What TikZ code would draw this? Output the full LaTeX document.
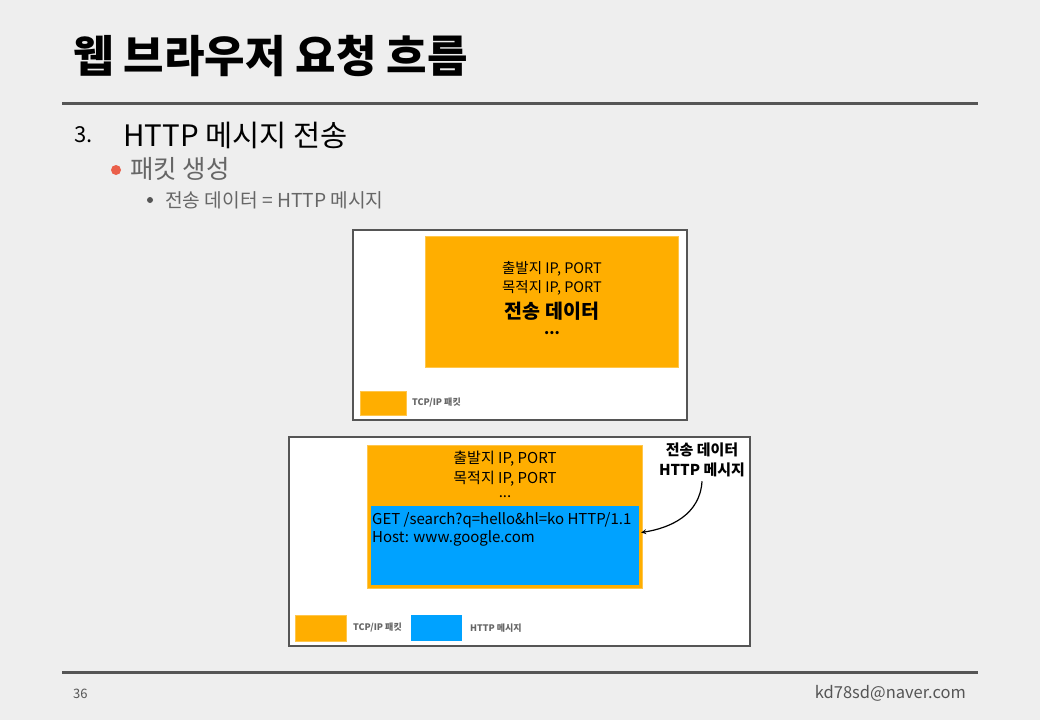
\documentclass[tikz,border=0pt]{standalone}
\usepackage{fontspec}
\setmainfont{Noto Sans CJK KR}
\usetikzlibrary{positioning}

\definecolor{pktorange}{HTML}{FFAE00}
\definecolor{msgblue}{HTML}{00A2FF}
\definecolor{slidebg}{HTML}{EEEEEE}
\definecolor{rulegray}{HTML}{555555}
\definecolor{subgray}{HTML}{666666}
\definecolor{dotred}{HTML}{EA5F4A}
\newcommand{\fsz}[2]{\fontsize{#1}{#2}\selectfont}

\begin{document}
\begin{tikzpicture}[x=1pt,y=-1pt,>=stealth,
  outer/.style={draw=rulegray,line width=2pt,fill=white,inner sep=0pt},
  pkt/.style={fill=pktorange,draw=pktorange!70!white,inner sep=0pt},
  msg/.style={fill=msgblue,inner sep=0pt},
  txt/.style={inner sep=0pt,font=\fsz{14.5}{17}},
  lgd/.style={inner sep=0pt,anchor=west,text=subgray,font=\fsz{9}{11}\bfseries}]
  \fill[slidebg] (0,0) rectangle (1040,720);
  \useasboundingbox (0,0) rectangle (1040,720);

  % header
  \node[anchor=west,inner sep=0pt,font=\fsz{44}{52}\bfseries] (title) at (73,56) {웹 브라우저 요청 흐름};
  \draw[rulegray,line width=3pt] (62,103) -- (978,103);
  \node[anchor=west,inner sep=0pt,font=\fsz{22}{26}] (num) at (74,135) {3.};
  \node[anchor=west,inner sep=0pt,font=\fsz{29.5}{34}] (step3) at (123,135) {HTTP 메시지 전송};
  \node[circle,fill=dotred,inner sep=0pt,minimum size=10] (dot1) at (116,170) {};
  \node[anchor=west,inner sep=0pt,text=subgray,font=\fsz{25.5}{30}] (pkt) at (130,169) {패킷 생성};
  \node[circle,fill=rulegray,inner sep=0pt,minimum size=6] (dot2) at (150,200) {};
  \node[anchor=west,inner sep=0pt,text=subgray,font=\fsz{19.2}{23}] (data) at (165,200) {전송 데이터 = HTTP 메시지};

  % packet
  \node[outer,minimum width=334,minimum height=190] (box1) at (520,325) {};
  \node[pkt,minimum width=253,minimum height=131] (pkt1) at (551.5,301.5) {};
  \node[txt] (src1) at (552,269) {출발지 IP, PORT};
  \node[txt] (dst1) at (552,288) {목적지 IP, PORT};
  \node[txt,font=\fsz{19.5}{23}\bfseries] (load1) at (552,311) {전송 데이터};
  \node[txt,font=\fsz{15}{18}\bfseries] (more1) at (552,333) {...};
  \node[pkt,minimum width=46,minimum height=24] (key1) at (383,403) {};
  \node[lgd] (keytxt1) at (412,403) {TCP/IP 패킷};

  % packet + http message
  \node[outer,minimum width=461,minimum height=209] (box2) at (519.5,541.5) {};
  \node[pkt,minimum width=275,minimum height=143] (pkt2) at (504.5,516.5) {};
  \node[txt,font=\fsz{15}{18}] (src2) at (505,459) {출발지 IP, PORT};
  \node[txt,font=\fsz{15}{18}] (dst2) at (505,479) {목적지 IP, PORT};
  \node[txt,font=\fsz{15}{18}] (more2) at (505,497) {...};
  \node[msg,minimum width=268,minimum height=79] (http) at (505,545.5) {};
  \node[txt,anchor=west,font=\fsz{15}{18}] (get) at (372,520) {GET /search?q=hello\&hl=ko HTTP/1.1};
  \node[txt,anchor=west,font=\fsz{15}{18}] (host) at (372,538) {Host: www.google.com};
  \node[txt,align=center,font=\fsz{15}{20}\bfseries] (lbl) at (702,460) {전송 데이터\\HTTP 메시지};
  \draw[->,line width=1.2pt] ([yshift=-4pt]lbl.south) .. controls (700,515) and (670,528) .. ([xshift=2pt,yshift=13pt]http.east);
  \node[pkt,minimum width=51,minimum height=26] (key2) at (320.5,628) {};
  \node[lgd] (keytxt2) at (353,628) {TCP/IP 패킷};
  \node[msg,minimum width=51,minimum height=26] (key3) at (436.5,628) {};
  \node[lgd] (keytxt3) at (470,628) {HTTP 메시지};

  % footer
  \draw[rulegray,line width=3pt] (62,672) -- (978,672);
  \node[anchor=west,inner sep=0pt,text=rulegray,font=\fsz{13}{16}] (page) at (73,694) {36};
  \node[anchor=east,inner sep=0pt,text=rulegray,font=\fsz{16.5}{20}] (mail) at (966,693) {kd78sd@naver.com};
\end{tikzpicture}
\end{document}
